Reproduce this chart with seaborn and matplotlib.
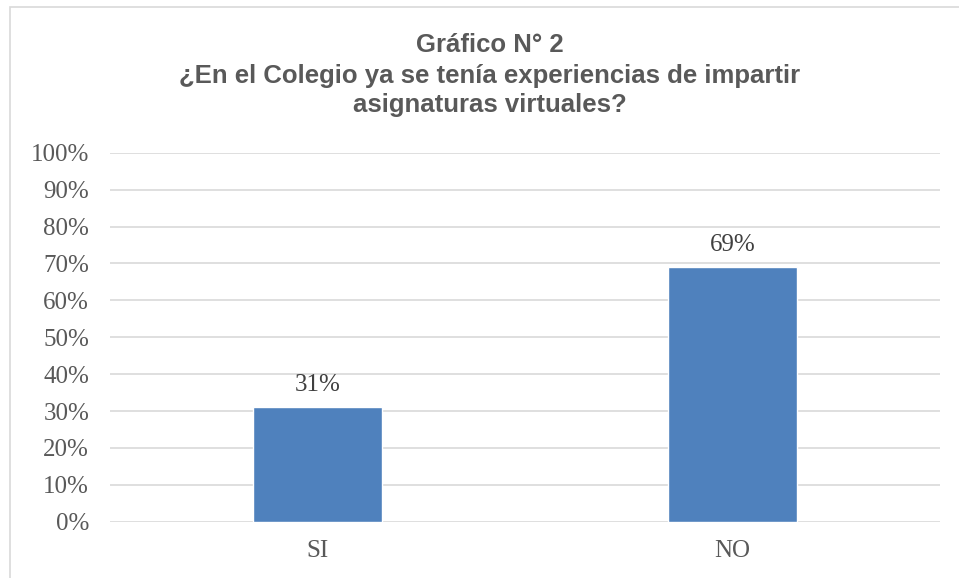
import matplotlib
matplotlib.use("Agg")
import matplotlib.pyplot as plt
from matplotlib.patches import Rectangle
from matplotlib.ticker import PercentFormatter
import seaborn as sns
import pandas as pd

categories = ["SI", "NO"]
values = [0.31, 0.69]
value_labels = ["31%", "69%"]
title_lines = ["Gráfico N° 2",
               "¿En el Colegio ya se tenía experiencias de impartir",
               "asignaturas virtuales?"]

sns.set_theme(style="white")
plt.rcParams['font.family'] = ['Liberation Serif', 'DejaVu Serif']

W, H = 959, 578
fig = plt.figure(figsize=(W / 100, H / 100), dpi=100)
ax = fig.add_axes([110 / W, 1 - 521.7 / H, 830 / W, (521.7 - 152.7) / H])

df = pd.DataFrame({"cat": categories, "val": values})
sns.barplot(data=df, x="cat", y="val", color="#4F81BD", saturation=1,
            width=0.313, ax=ax, zorder=3)

ax.set_ylim(0, 1)
ax.set_xlim(-0.5, 1.5)
ax.set_yticks([i / 10 for i in range(11)])
ax.yaxis.set_major_formatter(PercentFormatter(1.0, decimals=0))
ax.grid(axis="y", color="#D9D9D9", linewidth=1.2, zorder=0)
ax.grid(axis="x", visible=False)
for s in ax.spines.values():
    s.set_visible(False)
ax.set_xlabel("")
ax.set_ylabel("")
ax.tick_params(axis="y", length=0, pad=15, labelsize=18, labelcolor="#595959")
ax.tick_params(axis="x", length=0, pad=13, labelsize=18, labelcolor="#595959")

for i, (v, lab) in enumerate(zip(values, value_labels)):
    ax.annotate(lab, (i, v), xytext=(0, 8), textcoords="offset points",
                ha="center", va="bottom", fontsize=18, color="#404040")

ys = [52, 83, 112]
for line, y in zip(title_lines, ys):
    fig.text(490 / W, 1 - y / H, line, ha="center", va="baseline",
             fontsize=18.5, fontweight="bold", color="#595959",
             family=["Liberation Sans", "DejaVu Sans"])

fig.patches.append(Rectangle((10 / W, -0.1), 1.2, 1.1 - 7.5 / H,
                             transform=fig.transFigure, fill=False,
                             edgecolor="#D9D9D9", linewidth=1.2, clip_on=False))

fig.savefig("out.png", dpi=100)
